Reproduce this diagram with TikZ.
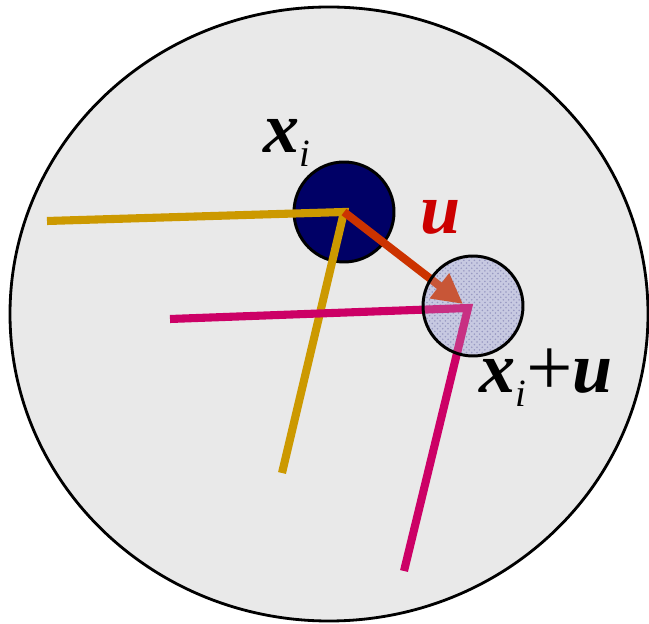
\documentclass[tikz,border=0pt]{standalone}
\usepackage{fontspec}
\setmainfont{Liberation Serif}
\usetikzlibrary{patterns,arrows.meta}

\definecolor{bgray}{RGB}{233,233,233}
\definecolor{navy}{RGB}{0,0,102}
\definecolor{lilac}{RGB}{190,192,220}
\definecolor{gold}{RGB}{204,153,0}
\definecolor{plum}{RGB}{204,0,102}
\definecolor{rust}{RGB}{204,51,0}
\definecolor{ured}{RGB}{204,0,0}

\tikzset{
  dot/.style={circle,draw=black,line width=1.7pt,minimum size=2cm,inner sep=0pt},
  ray/.style={line width=4.6pt},
  lab/.style={font=\fontsize{41}{46}\selectfont\bfseries\itshape,inner sep=0pt,anchor=base west}
}

\newcommand{\subi}{\raisebox{-7.5pt}{\mdseries\fontsize{22}{24}\selectfont i}}

\begin{document}
\begin{tikzpicture}[x=0.02cm,y=-0.02cm]
\useasboundingbox (0,0) rectangle (649,624);

\draw[fill=bgray,line width=1.6pt] (329,314) ellipse [x radius=319, y radius=307];

\node[dot,fill=navy] (xi) at (344,212) {};
\coordinate (xiu c) at (473,306);

% light disc under the rays
\fill[lilac!80] (xiu c) circle [radius=50];
\fill[pattern=crosshatch dots,pattern color=navy!45] (xiu c) circle [radius=49];

\coordinate (g1) at (47,221);
\coordinate (g2) at (282,473);
\draw[ray,gold,line join=miter] (g1) -- (xi.center) -- (g2);

\draw[rust,line width=4.6pt,-{Triangle[length=17pt,width=17pt]}] (xi.center) -- (463,304);

\coordinate (m1) at (170,319);
\coordinate (m2) at (404,571);
\draw[ray,plum,line join=miter] (m1) -- (468,308) -- (m2);

\node[dot,fill=lilac,fill opacity=0.25,text opacity=1] (xiu) at (xiu c) {};

\node[lab] (xilab) at (263,153) {x\subi};
\node[lab,text=ured] (ulab) at (420,234) {u};
\node[lab] (xiulab) at (479,393) {x\subi{\mdseries\upshape\fontsize{47}{47}\selectfont\raisebox{-1.5pt}{+}}u};
\end{tikzpicture}
\end{document}
